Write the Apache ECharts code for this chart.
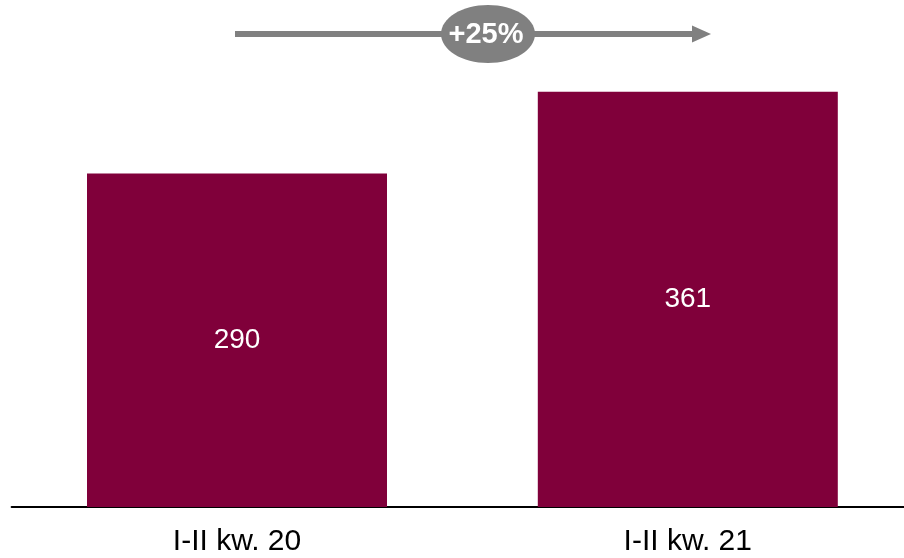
<!DOCTYPE html>
<html><head><meta charset="utf-8">
<script src="https://cdn.jsdelivr.net/npm/echarts@6/dist/echarts.min.js"></script>
<style>html,body{margin:0;padding:0;background:#fff;overflow:hidden;width:904px;height:558px}#c{width:914px;height:558px}</style>
</head><body><div id="c"></div>
<script>
const categories = ['I-II kw. 20', 'I-II kw. 21'];
const values = [290, 361];
const changeLabel = '+25%';

const chart = echarts.init(document.getElementById('c'), null, {renderer: 'canvas'});
const font = '"Liberation Sans", Arial, sans-serif';
chart.setOption({
  animation: false,
  grid: {left: 11.6, right: 0.8, top: 47, bottom: 51},
  xAxis: {
    type: 'category', data: categories,
    axisLine: {lineStyle: {color: '#000', width: 2}},
    axisTick: {show: false},
    axisLabel: {color: '#000', fontSize: 30, fontFamily: font, margin: 20}
  },
  yAxis: {type: 'value', min: 0, max: 400, show: false, splitLine: {show: false}},
  series: [{
    type: 'bar', data: values, barWidth: 300,
    itemStyle: {color: '#80003A'},
    label: {show: true, position: 'inside', color: '#fff', fontSize: 28, fontFamily: font}
  }],
  graphic: [
    {type: 'line', shape: {x1: 235, y1: 34, x2: 694, y2: 34}, style: {stroke: '#808080', lineWidth: 6}},
    {type: 'polygon', shape: {points: [[692, 25.5], [711, 34], [692, 42.5]]}, style: {fill: '#808080'}},
    {type: 'ellipse', shape: {cx: 488, cy: 34, rx: 47, ry: 29}, style: {fill: '#808080'}},
    {type: 'text', x: 486, y: 35, style: {text: changeLabel, fill: '#fff', font: 'bold 29px ' + font, textAlign: 'center', textVerticalAlign: 'middle'}}
  ]
});
</script></body></html>
